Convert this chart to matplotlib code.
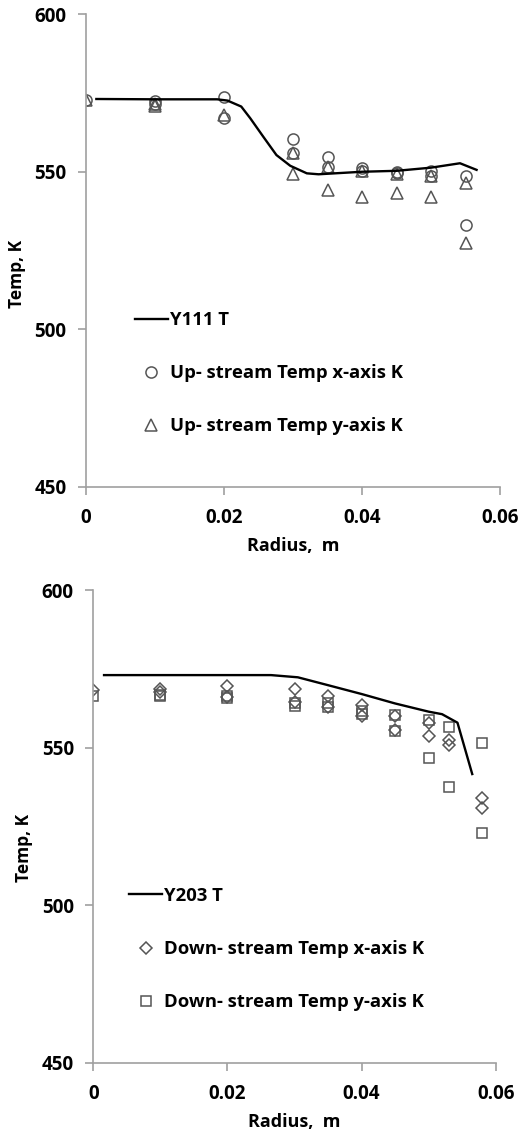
import matplotlib
matplotlib.use("Agg")
import matplotlib.pyplot as plt

plt.rcParams["font.family"] = ["Open Sans", "DejaVu Sans"]

# --- Style ---
AXIS_GRAY = "#a0a0a0"
MARKER_GRAY = "#555555"
TEXT = "#000000"

# ---------------------------------------------------------------------------
# Data — top panel (Y111, up-stream)
# ---------------------------------------------------------------------------
y111_r = [0.0015, 0.010, 0.019, 0.0205, 0.0225, 0.0238, 0.0257, 0.0276, 0.0296,
          0.032, 0.0337, 0.040, 0.045, 0.050, 0.0542, 0.0566]
y111_t = [573.1, 573.0, 573.0, 572.6, 570.7, 567.0, 561.1, 555.3, 551.9,
          549.5, 549.2, 550.0, 550.3, 551.3, 552.7, 550.6]

up_x_r = [0.0, 0.01, 0.01, 0.02, 0.02, 0.03, 0.03, 0.035, 0.035, 0.04, 0.04,
          0.045, 0.045, 0.05, 0.05, 0.055, 0.055]
up_x_t = [572.8, 572.5, 571.5, 573.8, 567.0, 560.3, 555.8, 554.6, 551.6, 551.1, 550.2,
          550.0, 549.6, 550.2, 548.6, 548.5, 533.1]

up_y_r = [0.0, 0.01, 0.01, 0.02, 0.03, 0.03, 0.035, 0.035, 0.04, 0.04,
          0.045, 0.045, 0.05, 0.05, 0.055, 0.055]
up_y_t = [572.8, 571.5, 571.0, 568.0, 556.0, 549.4, 551.6, 544.2, 550.3, 542.1,
          549.4, 543.4, 548.7, 542.1, 546.4, 527.3]

# ---------------------------------------------------------------------------
# Data — bottom panel (Y203, down-stream)
# ---------------------------------------------------------------------------
y203_r = [0.0016, 0.0265, 0.0305, 0.035, 0.040, 0.045, 0.050, 0.052, 0.0543, 0.0565]
y203_t = [573.0, 573.0, 572.3, 569.8, 567.0, 564.0, 561.4, 560.6, 557.9, 541.6]

down_x_r = [0.0, 0.01, 0.01, 0.02, 0.02, 0.03, 0.03, 0.035, 0.035, 0.04, 0.04,
            0.045, 0.045, 0.05, 0.05, 0.053, 0.053, 0.058, 0.058]
down_x_t = [568.3, 568.5, 567.5, 569.5, 566.0, 568.5, 564.5, 566.3, 563.0, 563.5, 560.0,
            560.0, 555.7, 557.7, 553.7, 552.4, 550.8, 533.9, 530.7]

down_y_r = [0.0, 0.01, 0.01, 0.02, 0.02, 0.03, 0.03, 0.035, 0.035, 0.04, 0.04,
            0.045, 0.045, 0.05, 0.05, 0.053, 0.053, 0.058, 0.058]
down_y_t = [566.3, 566.8, 566.4, 566.3, 565.6, 564.0, 563.2, 564.0, 563.0, 561.5, 560.5,
            560.3, 555.3, 558.7, 546.6, 556.4, 537.6, 551.5, 522.8]

X_TICKS = [0, 0.02, 0.04, 0.06]
X_TICKLABELS = ["0", "0.02", "0.04", "0.06"]
Y_TICKS = [450, 500, 550, 600]

# ---------------------------------------------------------------------------
fig = plt.figure(figsize=(5.26, 11.41), dpi=100, facecolor="white")
ax_top = fig.add_axes([0.1635, 0.5734, 0.7871, 0.4141])
ax_bot = fig.add_axes([0.1774, 0.0686, 0.7650, 0.4143])


def style_axis(ax, ylab_xy):
    for side in ("top", "right"):
        ax.spines[side].set_visible(False)
    for side in ("left", "bottom"):
        ax.spines[side].set_color(AXIS_GRAY)
        ax.spines[side].set_linewidth(1.2)
    ax.set_xlim(0, 0.06)
    ax.set_ylim(450, 600)
    ax.set_xticks(X_TICKS)
    ax.set_xticklabels(X_TICKLABELS)
    ax.set_yticks(Y_TICKS)
    ax.tick_params(axis="x", direction="out", length=6, width=1.2, color=AXIS_GRAY,
                   pad=9, labelsize=13.5)
    ax.tick_params(axis="y", direction="out", length=6, width=1.2, color=AXIS_GRAY,
                   pad=8, labelsize=13.5)
    for lab in ax.get_xticklabels() + ax.get_yticklabels():
        lab.set_fontweight("bold")
        lab.set_color(TEXT)
    ax.set_xlabel("Radius,  m", fontsize=13, fontweight="bold", labelpad=7)
    ax.set_ylabel("Temp, K", fontsize=12.5, fontweight="bold")
    ax.yaxis.set_label_coords(*ylab_xy)


LEGEND_KW = dict(loc="upper left", frameon=False,
                 prop={"weight": "bold", "size": 13.3},
                 handlelength=1.8, handletextpad=0.1, labelspacing=1.9,
                 borderpad=0, borderaxespad=0)

# Top chart
ax_top.plot(y111_r, y111_t, color="black", linewidth=1.7, label="Y111 T", zorder=3)
ax_top.plot(up_x_r, up_x_t, linestyle="none", marker="o", markersize=8,
            markerfacecolor="none", markeredgecolor=MARKER_GRAY, markeredgewidth=1.1,
            label="Up- stream Temp x-axis K")
ax_top.plot(up_y_r, up_y_t, linestyle="none", marker="^", markersize=8.5,
            markerfacecolor="none", markeredgecolor=MARKER_GRAY, markeredgewidth=1.1,
            label="Up- stream Temp y-axis K")
style_axis(ax_top, (-0.145, 0.45))
ax_top.legend(bbox_to_anchor=(0.118, 0.372), **LEGEND_KW)

# Bottom chart
ax_bot.plot(y203_r, y203_t, color="black", linewidth=1.7, label="Y203 T", zorder=3)
ax_bot.plot(down_x_r, down_x_t, linestyle="none", marker="D", markersize=6.5,
            markerfacecolor="none", markeredgecolor=MARKER_GRAY, markeredgewidth=1.1,
            label="Down- stream Temp x-axis K")
ax_bot.plot(down_y_r, down_y_t, linestyle="none", marker="s", markersize=7.5,
            markerfacecolor="none", markeredgecolor=MARKER_GRAY, markeredgewidth=1.1,
            label="Down- stream Temp y-axis K")
style_axis(ax_bot, (-0.15, 0.455))
ax_bot.legend(bbox_to_anchor=(0.089, 0.372), **LEGEND_KW)

fig.savefig("out.png", dpi=100, facecolor="white")
